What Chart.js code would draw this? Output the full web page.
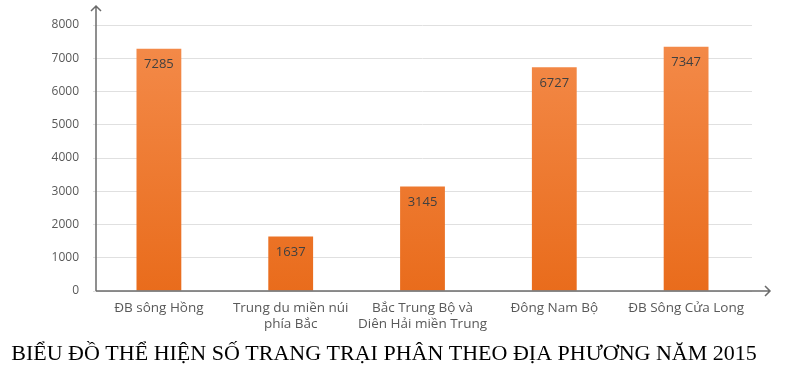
<!DOCTYPE html>
<html>
<head>
<meta charset="utf-8">
<script src="https://cdn.jsdelivr.net/npm/chart.js@4"></script>
<style>
  html, body { margin: 0; padding: 0; background: #fff; }
  #wrap { width: 801px; height: 367px; position: relative; }
</style>
</head>
<body>
<div id="wrap"><canvas id="chart"></canvas></div>
<script>
const regions = [
  'ĐB sông Hồng',
  ['Trung du miền núi', 'phía Bắc'],
  ['Bắc Trung Bộ và', 'Diên Hải miền Trung'],
  'Đông Nam Bộ',
  'ĐB Sông Cửa Long'
];
const farms = [7285, 1637, 3145, 6727, 7347];
const yMax = 8000;
const yStep = 1000;
const titleText = 'BIỂU ĐỒ THỂ HIỆN SỐ TRANG TRẠI PHÂN THEO ĐỊA PHƯƠNG NĂM 2015';

const textColor = '#595959';
const axisColor = '#6b6b6b';

// orange gradient, lighter on top
function barFill(ctx) {
  const chart = ctx.chart;
  const area = chart.chartArea;
  if (!area) return '#ee7d32';
  const g = chart.ctx.createLinearGradient(0, area.top, 0, area.bottom);
  g.addColorStop(0, '#f48c4c');
  g.addColorStop(1, '#e96c1c');
  return g;
}

const valueLabels = {
  id: 'valueLabels',
  afterDatasetsDraw(chart) {
    const ctx = chart.ctx;
    const meta = chart.getDatasetMeta(0);
    ctx.save();
    ctx.font = '13px "Open Sans", sans-serif';
    ctx.fillStyle = '#404040';
    ctx.textAlign = 'center';
    ctx.textBaseline = 'middle';
    meta.data.forEach((bar, i) => {
      ctx.fillText(String(farms[i]), bar.x, bar.y + 16);
    });
    ctx.restore();
  }
};

// axis lines with open arrowheads, plus the caption under the chart
const arrowAxes = {
  id: 'arrowAxes',
  afterDraw(chart) {
    const ctx = chart.ctx;
    const area = chart.chartArea;
    const x0 = area.left + 3;
    const y0 = chart.scales.y.getPixelForValue(0);
    ctx.save();
    ctx.strokeStyle = axisColor;
    ctx.lineWidth = 1.5;
    ctx.beginPath();
    ctx.moveTo(x0, y0);
    ctx.lineTo(x0, 6);
    ctx.moveTo(x0 - 5, 11);
    ctx.lineTo(x0, 6);
    ctx.lineTo(x0 + 5, 11);
    ctx.moveTo(x0, y0);
    ctx.lineTo(770, y0);
    ctx.moveTo(765, y0 - 5);
    ctx.lineTo(770, y0);
    ctx.lineTo(765, y0 + 5);
    ctx.stroke();

    ctx.font = '22px "Liberation Serif", "Times New Roman", serif';
    ctx.fillStyle = '#000';
    ctx.textAlign = 'center';
    ctx.textBaseline = 'middle';
    ctx.fillText(titleText, 384, 354);
    ctx.restore();
  }
};

new Chart(document.getElementById('chart'), {
  type: 'bar',
  data: {
    labels: regions,
    datasets: [{
      data: farms,
      backgroundColor: barFill,
      borderWidth: 0,
      barPercentage: 0.34,
      categoryPercentage: 1
    }]
  },
  options: {
    responsive: true,
    maintainAspectRatio: false,
    animation: false,
    layout: { padding: { top: 25, right: 49, bottom: 28, left: 0 } },
    plugins: {
      legend: { display: false },
      tooltip: { enabled: false },
      title: { display: false }
    },
    scales: {
      x: {
        grid: { display: false, drawTicks: false },
        border: { display: false },
        ticks: {
          color: textColor,
          font: { family: '"Open Sans", sans-serif', size: 13.5, lineHeight: 1.2 },
          padding: 9,
          maxRotation: 0,
          autoSkip: false
        },
        afterFit(scale) { scale.height = 48; }
      },
      y: {
        min: 0,
        max: yMax,
        grid: { color: '#e0e0e0', drawTicks: false, lineWidth: 1 },
        border: { display: false },
        ticks: {
          stepSize: yStep,
          color: textColor,
          font: { family: '"Open Sans", sans-serif', size: 12 },
          padding: 14,
          callback: (v) => String(v)
        },
        afterFit(scale) { scale.width = 93; }
      }
    }
  },
  plugins: [valueLabels, arrowAxes]
});
</script>
</body>
</html>
